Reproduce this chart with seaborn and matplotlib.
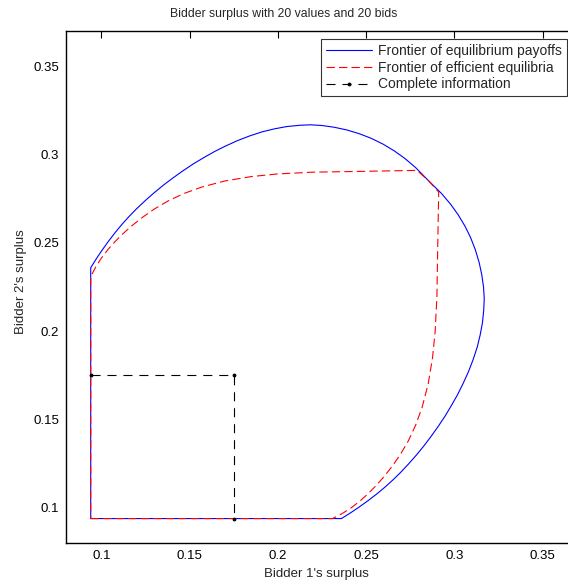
import matplotlib
matplotlib.use("Agg")
import matplotlib.pyplot as plt
import seaborn as sns

# Frontier of equilibrium payoffs (closed path)
eq_x = [0.094,
        0.236, 0.2408, 0.2453, 0.2509, 0.2561, 0.2609, 0.2653, 0.2694, 0.2741, 0.2785,
        0.2826, 0.2864, 0.2907, 0.2947, 0.2983, 0.3017, 0.3047, 0.3079, 0.3106, 0.3129,
        0.3146, 0.3159, 0.3166, 0.3169, 0.3165, 0.3155, 0.314, 0.3119, 0.3092, 0.306,
        0.3021, 0.2978, 0.2927, 0.2853,
        0.278, 0.272, 0.266, 0.2595, 0.253, 0.246, 0.239, 0.232, 0.225, 0.2185,
        0.212, 0.205, 0.198, 0.191, 0.184, 0.177, 0.170, 0.164, 0.158, 0.152,
        0.146, 0.140, 0.135, 0.130, 0.125, 0.120, 0.116, 0.112, 0.108, 0.104,
        0.100, 0.097, 0.094,
        0.094]
eq_y = [0.094,
        0.094, 0.097, 0.100, 0.104, 0.108, 0.112, 0.116, 0.120, 0.125, 0.130,
        0.135, 0.140, 0.146, 0.152, 0.158, 0.164, 0.170, 0.177, 0.184, 0.191,
        0.198, 0.205, 0.212, 0.2185, 0.225, 0.232, 0.239, 0.246, 0.253, 0.2595,
        0.266, 0.272, 0.278, 0.2853,
        0.2927, 0.2978, 0.3021, 0.306, 0.3092, 0.3119, 0.314, 0.3155, 0.3165, 0.3169,
        0.3166, 0.3159, 0.3146, 0.3129, 0.3106, 0.3079, 0.3047, 0.3017, 0.2983, 0.2947,
        0.2907, 0.2864, 0.2826, 0.2785, 0.2741, 0.2694, 0.2653, 0.2609, 0.2561, 0.2509,
        0.2453, 0.2408, 0.236,
        0.094]

# Frontier of efficient equilibria
eff_x = [0.094, 0.231, 0.2367, 0.2414, 0.2466, 0.251, 0.255, 0.2595, 0.2643, 0.2692,
         0.2739, 0.2781, 0.2817, 0.2851, 0.2876, 0.2891, 0.2901, 0.2905, 0.2911,
         0.2853, 0.2788,
         0.245, 0.220, 0.200, 0.185, 0.170, 0.157, 0.147, 0.138, 0.130,
         0.123, 0.117, 0.112, 0.108, 0.104, 0.100, 0.097, 0.094, 0.094]
eff_y = [0.094, 0.094, 0.097, 0.100, 0.104, 0.108, 0.112, 0.117, 0.123, 0.130,
         0.138, 0.147, 0.157, 0.170, 0.185, 0.200, 0.220, 0.245, 0.2788,
         0.2853, 0.2911,
         0.2905, 0.2901, 0.2891, 0.2876, 0.2851, 0.2817, 0.2781, 0.2739, 0.2692,
         0.2643, 0.2595, 0.255, 0.251, 0.2466, 0.2414, 0.2367, 0.231, 0.094]

# Complete information
ci_x = [0.094, 0.175, 0.175]
ci_y = [0.175, 0.175, 0.094]

x_ticks = [0.1, 0.15, 0.2, 0.25, 0.3, 0.35]
y_ticks = [0.1, 0.15, 0.2, 0.25, 0.3, 0.35]
x_tick_labels = ["0.1", "0.15", "0.2", "0.25", "0.3", "0.35"]
y_tick_labels = ["0.1", "0.15", "0.2", "0.25", "0.3", "0.35"]

sns.set_theme(style="white")
plt.rcParams['font.family'] = ['Liberation Sans', 'DejaVu Sans']
plt.rcParams['lines.scale_dashes'] = False

fig = plt.figure(figsize=(5.68, 5.81), dpi=100)
ax = fig.add_axes([66 / 568, (581 - 543.3) / 581, 512 / 568, 512.3 / 581])

sns.lineplot(x=eq_x, y=eq_y, sort=False, estimator=None, color="blue",
             linewidth=0.8, label="Frontier of equilibrium payoffs", ax=ax)
sns.lineplot(x=eff_x, y=eff_y, sort=False, estimator=None, color="red",
             linewidth=0.8, dashes=False, linestyle=(0, (6, 3)),
             label="Frontier of efficient equilibria", ax=ax)
sns.lineplot(x=ci_x, y=ci_y, sort=False, estimator=None, color="black",
             linewidth=0.8, dashes=False, linestyle=(0, (6.5, 5)), marker=".", markersize=4,
             markeredgecolor="black", label="Complete information", ax=ax)

ax.set_xlim(0.08, 0.37)
ax.set_ylim(0.08, 0.37)
ax.set_xticks(x_ticks)
ax.set_xticklabels(x_tick_labels)
ax.set_yticks(y_ticks)
ax.set_yticklabels(y_tick_labels)
ax.tick_params(direction="in", length=5, width=0.8, labelsize=9.5, pad=5,
               top=True, right=True, colors="black")
for s in ax.spines.values():
    s.set_color("black")
    s.set_linewidth(1.0)

ax.set_xlabel("Bidder 1's surplus", fontsize=9.5)
ax.set_ylabel("Bidder 2's surplus", fontsize=9.5)
ax.xaxis.set_label_coords(0.49, -0.048)
ax.yaxis.set_label_coords(-0.076, 0.51)
fig.text(284 / 568, 1 - 14 / 581, "Bidder surplus with 20 values and 20 bids",
         ha="center", va="center", fontsize=8.8)

leg = ax.legend(loc="upper right", bbox_to_anchor=((567 - 66) / 512, (543.3 - 39) / 512.3),
                fontsize=10.0, frameon=True, fancybox=False, borderaxespad=0,
                handlelength=3.3, labelspacing=0.2, borderpad=0.35, handletextpad=0.45)
leg.get_frame().set_edgecolor("black")
leg.get_frame().set_linewidth(0.8)

plt.savefig("out.png", dpi=100)
plt.close()
